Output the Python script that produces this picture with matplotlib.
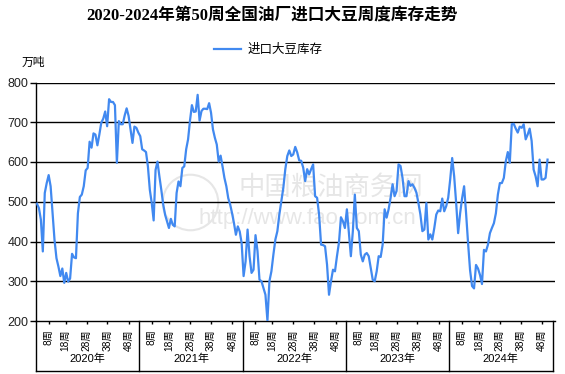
import numpy as np
import matplotlib
matplotlib.use("Agg")
import matplotlib.pyplot as plt
import matplotlib.transforms as mtransforms

plt.rcParams['font.family'] = ['Liberation Sans', 'Noto Sans CJK SC', 'DejaVu Sans']

title = "2020-2024年第50周全国油厂进口大豆周度库存走势"
series_name = "进口大豆库存"
unit = "万吨"
years = ["2020年", "2021年", "2022年", "2023年", "2024年"]
week_labels = ["8周", "18周", "28周", "38周", "48周"]

# weekly stock readings, one list per year
y2020 = [495, 484, 455, 375, 522, 547, 567, 539, 471, 404, 358, 337, 313, 332, 296, 321,
         299, 307, 369, 360, 358, 471, 512, 518, 539, 579, 585, 651, 636, 672, 669, 642,
         669, 699, 709, 727, 690, 758, 751, 751, 743, 598, 703, 695, 695, 717, 735, 716,
         682, 648, 689, 686, 674]
y2021 = [665, 632, 629, 625, 589, 530, 497, 453, 580, 601, 564, 530, 493, 467, 450, 434,
         457, 442, 438, 522, 551, 539, 585, 589, 632, 657, 704, 743, 726, 727, 769, 704,
         728, 734, 734, 733, 748, 724, 682, 661, 644, 601, 616, 589, 560, 539, 509, 493,
         471, 446, 417, 438, 425, 396]
y2022 = [313, 350, 430, 363, 321, 329, 416, 376, 304, 300, 283, 266, 201, 300, 325, 367,
         405, 426, 468, 502, 535, 582, 615, 629, 615, 619, 638, 624, 604, 603, 586, 552,
         582, 569, 582, 594, 514, 510, 468, 392, 391, 388, 342, 266, 300, 329, 325, 363,
         397, 461, 451, 434]
y2023 = [481, 422, 363, 426, 518, 434, 426, 367, 350, 367, 371, 363, 334, 304, 300, 325,
         363, 361, 392, 481, 460, 481, 510, 544, 514, 527, 594, 590, 560, 514, 514, 552,
         540, 544, 535, 523, 497, 468, 426, 430, 497, 405, 418, 405, 434, 468, 478, 476,
         508, 476, 489, 510]
y2024 = [556, 610, 564, 497, 421, 471, 509, 539, 471, 396, 328, 288, 282, 341, 332, 316,
         293, 379, 375, 392, 421, 434, 446, 471, 518, 547, 547, 560, 602, 625, 598, 695,
         696, 684, 674, 689, 686, 695, 657, 669, 684, 653, 581, 564, 539, 606, 556, 556,
         560, 606]
yearly = [y2020, y2021, y2022, y2023, y2024]

# position of week ticks inside a year (fraction of the year band)
week_pos = [0.122, 0.287, 0.49, 0.692, 0.9]

xs, ys = [], []
for k, vals in enumerate(yearly):
    n = max(len(vals), 52)
    for j, v in enumerate(vals):
        xs.append(k + (j + 0.5) / n)
        ys.append(v)

fig = plt.figure(figsize=(5.65, 3.74), dpi=100)
ax = fig.add_axes([36 / 565, 1 - 321 / 374, 519 / 565, 238.5 / 374])

line_color = "#4189f0"
ax.plot(xs, ys, color=line_color, lw=1.6, zorder=3)

ax.set_ylim(200, 800)
ax.set_yticks(range(200, 801, 100))
xmax = 5 * 519 / 516.5
ax.set_xlim(0, xmax)
for v in range(300, 801, 100):
    ax.axhline(v, color="black", lw=1.0, zorder=1)

for s in ["top", "right"]:
    ax.spines[s].set_visible(False)
ax.spines["left"].set_linewidth(1.0)
ax.spines["bottom"].set_linewidth(1.0)
ax.tick_params(axis="y", length=4.5, width=1.0, labelsize=9, pad=1, labelcolor="#222222")

ticks, labels = [], []
for k in range(len(years)):
    for p, lab in zip(week_pos, week_labels):
        ticks.append(k + p)
        labels.append(lab)
ax.set_xticks(ticks)
ax.set_xticklabels(labels, rotation=90, fontsize=7.3, va="top", ha="center")
ax.tick_params(axis="x", length=2.5, width=1.0, pad=3.5)

# year group boxes under the axis
trans = mtransforms.blended_transform_factory(ax.transData, ax.transAxes)
low = -50 / 238.5
for k in range(len(years) + 1):
    ax.plot([k, k], [0, low], transform=trans, color="black", lw=1.0, clip_on=False)
ax.plot([0, len(years)], [low, low], transform=trans, color="black", lw=1.0, clip_on=False)
for k, yl in enumerate(years):
    ax.text(k + 0.5, -37.5 / 238.5, yl, transform=trans, ha="center", va="center", fontsize=8)

# faint watermark
wm = "#e6e6e6"
ax.plot([0.297], [0.5], transform=ax.transAxes, marker="o", ms=40, mfc="none",
        mec=wm, mew=1.5, zorder=0)
ax.text(0.568, 0.56, "中国粮油商务网", transform=ax.transAxes, ha="center", va="center",
        fontsize=19, color=wm, zorder=0)
ax.text(0.522, 0.43, "http://www.fao.com.cn", transform=ax.transAxes, ha="center",
        va="center", fontsize=16, color=wm, zorder=0)

fig.text(272 / 565, 1 - 16 / 374, title, ha="center", va="center", fontsize=12,
         fontweight="bold", family=["Liberation Serif", "Noto Sans CJK SC"])
fig.legend(handles=ax.lines[:1], labels=[series_name], loc="center",
           bbox_to_anchor=(268 / 565, 1 - 50 / 374), frameon=False, fontsize=9,
           handlelength=2.2, handletextpad=0.5)
fig.text(22 / 565, 1 - 63 / 374, unit, ha="left", va="center", fontsize=8.5)

fig.savefig("out.png", dpi=100)
